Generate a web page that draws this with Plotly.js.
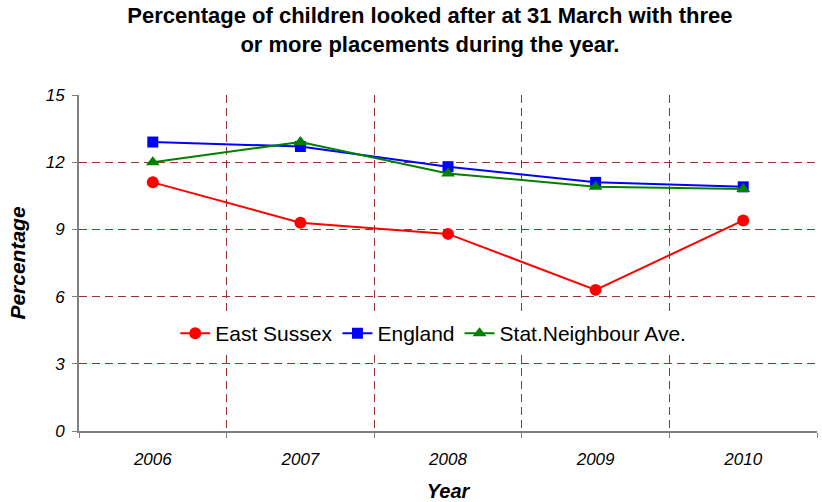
<!DOCTYPE html>
<html>
<head>
<meta charset="utf-8">
<script src="https://cdn.plot.ly/plotly-3.0.1.min.js"></script>
<style>html,body{margin:0;padding:0;background:#fff}#chart{width:822px;height:502px}</style>
</head>
<body>
<div id="chart"></div>
<script>
const years = ["2006", "2007", "2008", "2009", "2010"];
const eastSussex = [11.1, 9.3, 8.8, 6.3, 9.4];
const england = [12.9, 12.7, 11.8, 11.1, 10.9];
const statNeighbour = [12.0, 12.9, 11.5, 10.9, 10.8];
const yTicks = [0, 3, 6, 9, 12, 15];

const font = "Liberation Sans, Arial, sans-serif";
const traces = [
  {x: years, y: eastSussex, name: "East Sussex", type: "scatter", mode: "lines+markers",
   line: {color: "#ff0000", width: 2}, marker: {symbol: "circle", size: 12, color: "#ff0000"}},
  {x: years, y: england, name: "England", type: "scatter", mode: "lines+markers",
   line: {color: "#0000ff", width: 2}, marker: {symbol: "square", size: 11, color: "#0000ff"}},
  {x: years, y: statNeighbour, name: "Stat.Neighbour Ave.", type: "scatter", mode: "lines+markers",
   line: {color: "#008000", width: 2}, marker: {symbol: "triangle-up", size: 12, color: "#008000"}}
];
const layout = {
  width: 822, height: 502,
  margin: {l: 79, r: 5, t: 95, b: 71},
  paper_bgcolor: "#fff", plot_bgcolor: "#fff",
  font: {family: font, color: "#000"},
  title: {text: "<b>Percentage of children looked after at 31 March with three<br>or more placements during the year.</b>",
          font: {size: 22, family: font}, x: 0.523, xanchor: "center", xref: "container", y: 0.954, yanchor: "top", yref: "container"},
  xaxis: {type: "category", range: [-0.5, 4.5], tickson: "boundaries",
          showline: true, linecolor: "#808080", linewidth: 2,
          ticks: "outside", ticklen: 5, tickcolor: "#808080", tickwidth: 1,
          showgrid: true, gridcolor: "#993333", griddash: "8px,5px", gridwidth: 1,
          tickfont: {size: 17, family: font, style: "italic"}, ticklabelstandoff: 12,
          title: {text: "<b><i>Year</i></b>", font: {size: 20, family: font}, standoff: 16},
          zeroline: false, fixedrange: true},
  yaxis: {range: [0, 15], tickvals: yTicks, ticktext: yTicks.map(String),
          showline: true, linecolor: "#808080", linewidth: 2,
          ticks: "outside", ticklen: 5, tickcolor: "#808080", tickwidth: 1,
          showgrid: true, gridcolor: "#993333", griddash: "8px,5px", gridwidth: 1,
          tickfont: {size: 17, family: font, style: "italic"}, ticklabelstandoff: 4,
          title: {text: "<b><i>Percentage</i></b>", font: {size: 21, family: font}, standoff: 14},
          zeroline: false, fixedrange: true},
  legend: {orientation: "h", x: 0.48, xanchor: "center", y: 0.29, yanchor: "middle",
           bgcolor: "#fff", font: {size: 21, family: font}, itemwidth: 30, tracegroupgap: 0},
  showlegend: true
};
Plotly.newPlot("chart", traces, layout, {staticPlot: true, displayModeBar: false});
</script>
</body>
</html>
